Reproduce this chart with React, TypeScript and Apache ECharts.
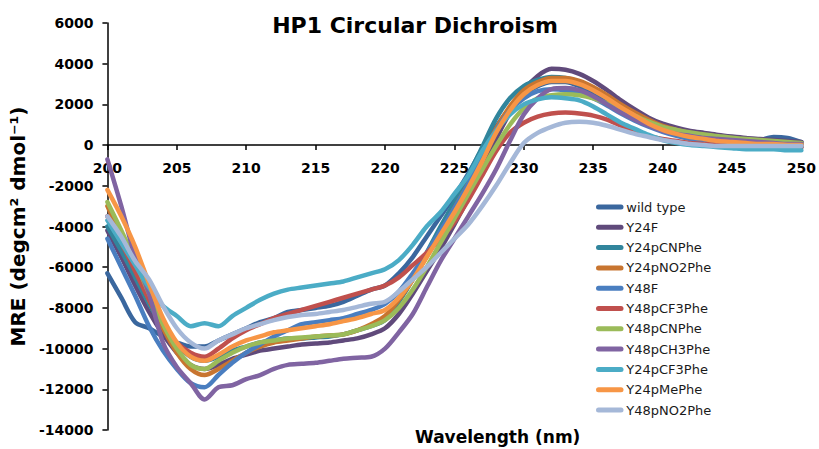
import React, { useEffect, useRef } from "react";
import * as echarts from "echarts";

const wavelengths = [200,201,202,203,204,205,206,207,208,209,210,211,212,213,214,215,216,217,218,219,220,221,222,223,224,225,226,227,228,229,230,231,232,233,234,235,236,237,238,239,240,241,242,243,244,245,246,247,248,249,250];

const wildType = [-6300,-7500,-8700,-9000,-9400,-9700,-9900,-9900,-9600,-9300,-9000,-8700,-8500,-8200,-8100,-8000,-7900,-7700,-7400,-7100,-6900,-6300,-5500,-4500,-3500,-2500,-1400,-200,900,1800,2500,2900,3100,3100,2900,2600,2200,1800,1400,1100,850,650,500,400,300,250,200,250,400,350,150];
const y24F = [-4200,-5500,-6900,-8200,-9300,-10200,-10800,-11000,-10800,-10500,-10300,-10100,-10000,-9900,-9800,-9750,-9700,-9600,-9500,-9300,-9000,-8300,-7300,-6200,-5100,-3900,-2600,-1200,300,1600,2700,3400,3750,3700,3500,3150,2700,2200,1750,1350,1050,850,700,600,500,420,350,300,250,200,150];
const y24pCNPhe = [-4000,-5200,-6500,-7800,-8900,-9800,-10400,-10600,-10400,-10100,-9900,-9700,-9600,-9500,-9500,-9450,-9400,-9300,-9100,-8900,-8600,-7700,-6600,-5300,-4000,-2800,-1500,-100,1300,2300,2900,3200,3350,3300,3100,2700,2300,1800,1400,1000,700,500,350,250,150,100,50,0,0,-50,-100];
const y24pNO2Phe = [-3000,-4500,-6000,-7600,-9000,-10200,-11000,-11300,-11000,-10600,-10200,-9900,-9700,-9600,-9500,-9400,-9350,-9300,-9100,-8800,-8400,-7600,-6600,-5500,-4300,-3100,-1900,-600,800,1900,2700,3100,3300,3300,3150,2850,2450,2000,1600,1250,950,750,600,500,400,320,250,200,150,100,50];
const y48F = [-4600,-6000,-7400,-8900,-10100,-11000,-11700,-11900,-11300,-10700,-10200,-9800,-9400,-9100,-8800,-8700,-8600,-8500,-8300,-8100,-7800,-7200,-6300,-5300,-4200,-3100,-1900,-600,700,1700,2300,2650,2750,2700,2550,2300,1950,1550,1200,900,650,450,300,200,150,100,50,0,0,-50,-50];
const y48pCF3Phe = [-3500,-4800,-6200,-7600,-8800,-9700,-10200,-10400,-10000,-9500,-9100,-8800,-8500,-8300,-8100,-7900,-7700,-7500,-7300,-7100,-6900,-6500,-5900,-5300,-4600,-3800,-2700,-1500,-300,600,1100,1400,1550,1600,1550,1450,1250,950,700,450,300,200,100,50,0,-50,-50,-100,-100,-100,-100];
const y48pCNPhe = [-2800,-4200,-5700,-7300,-8800,-10000,-10800,-11000,-10600,-10200,-9900,-9700,-9600,-9500,-9450,-9400,-9350,-9300,-9100,-8900,-8600,-8000,-7100,-6000,-4800,-3600,-2400,-1200,-50,1000,1800,2300,2450,2500,2450,2300,2050,1750,1450,1150,900,750,620,520,430,360,300,250,200,150,100];
const y48pCH3Phe = [-700,-3000,-5500,-7300,-9700,-10900,-11700,-12500,-11900,-11800,-11500,-11300,-11000,-10800,-10750,-10700,-10600,-10500,-10450,-10400,-10000,-9200,-8300,-7000,-5700,-4600,-3500,-2400,-1200,200,1500,2300,2750,2800,2700,2400,2000,1600,1250,950,700,550,450,350,300,250,200,150,100,50,50];
const y24pCF3Phe = [-3700,-4800,-5900,-7000,-7900,-8400,-8900,-8750,-8900,-8400,-8000,-7600,-7300,-7100,-7000,-6900,-6800,-6700,-6500,-6300,-6100,-5650,-4900,-4000,-3300,-2400,-1500,-300,700,1500,2000,2250,2350,2300,2200,1900,1500,1100,800,500,250,100,0,-50,-100,-150,-200,-200,-200,-250,-250];
const y24pMePhe = [-2200,-3500,-5000,-6800,-8500,-9700,-10400,-10600,-10300,-9900,-9600,-9400,-9200,-9100,-9000,-8900,-8800,-8650,-8500,-8300,-8100,-7500,-6600,-5500,-4400,-3300,-2100,-800,600,1700,2500,2950,3150,3150,3000,2700,2300,1850,1450,1050,750,550,400,300,200,150,100,50,50,0,0];
const y48pNO2Phe = [-3500,-4500,-5700,-6600,-7900,-9000,-9700,-10000,-9600,-9300,-9000,-8800,-8600,-8450,-8350,-8300,-8200,-8100,-7950,-7800,-7700,-7200,-6600,-6000,-5300,-4600,-3900,-3000,-2000,-900,100,600,900,1100,1150,1100,950,750,550,400,250,150,50,0,-50,-50,-50,-50,-50,-50,-50];

const seriesNames = ["wild type","Y24F","Y24pCNPhe","Y24pNO2Phe","Y48F","Y48pCF3Phe","Y48pCNPhe","Y48pCH3Phe","Y24pCF3Phe","Y24pMePhe","Y48pNO2Phe"];
const seriesValues = [wildType,y24F,y24pCNPhe,y24pNO2Phe,y48F,y48pCF3Phe,y48pCNPhe,y48pCH3Phe,y24pCF3Phe,y24pMePhe,y48pNO2Phe];
const seriesColors = ["#3A679E","#604A7B","#31859C","#C87530","#4A7EC0","#C0504D","#9BBB59","#8064A2","#4BACC6","#F79646","#A5B8D8"];

const FONT = "DejaVu Sans";

export default function App() {
  const ref = useRef<HTMLDivElement>(null);
  useEffect(() => {
    if (!ref.current) return;
    const chart = echarts.init(ref.current, undefined, { renderer: "svg" });
    const series = seriesNames.map((name, i) => ({
      name,
      type: "line",
      showSymbol: false,
      symbol: "none",
      smooth: 0.3,
      data: wavelengths.map((w, j) => [w, seriesValues[i][j]]),
      lineStyle: { width: 4.5, color: seriesColors[i], cap: "round", join: "round" },
      itemStyle: { color: seriesColors[i] },
    }));
    chart.setOption({
      animation: false,
      backgroundColor: "#ffffff",
      title: {
        text: "HP1 Circular Dichroism",
        left: 410,
        textAlign: "center",
        top: 9,
        textStyle: { fontFamily: FONT, fontWeight: "bold", fontSize: 22, color: "#000" },
      },
      grid: { left: 96, right: 13, top: 23, bottom: 19, containLabel: false },
      legend: {
        orient: "vertical",
        left: 591,
        top: 195,
        itemWidth: 33,
        itemHeight: 5,
        itemGap: 6.3,
        icon: "path://M3,0L30,0A3,3,0,0,1,30,6L3,6A3,3,0,0,1,3,0Z",
        textStyle: { fontFamily: FONT, fontSize: 13, color: "#1a1a1a", lineHeight: 14, padding: [0, 0, 0, -5] },
        data: seriesNames,
      },
      xAxis: {
        type: "value",
        position: "bottom",
        offset: -285,
        min: 200,
        max: 250,
        interval: 5,
        axisLine: { onZero: false, lineStyle: { color: "#000", width: 1.5 } },
        axisTick: { show: true, length: 5, lineStyle: { color: "#000", width: 1.5 } },
        axisLabel: { fontFamily: FONT, fontWeight: "bold", fontSize: 14, color: "#000", margin: 16, formatter: (v: number) => String(v) },
        splitLine: { show: false },
      },
      yAxis: {
        type: "value",
        min: -14000,
        max: 6000,
        interval: 2000,
        name: "MRE (degcm² dmol⁻¹)",
        nameLocation: "middle",
        nameGap: 74,
        nameRotate: 90,
        nameTextStyle: { fontFamily: FONT, fontWeight: "bold", fontSize: 20, color: "#000" },
        axisLine: { show: true, onZero: false, lineStyle: { color: "#000", width: 1.5 } },
        axisTick: { show: true, length: 5, lineStyle: { color: "#000", width: 1.5 } },
        axisLabel: { fontFamily: FONT, fontWeight: "bold", fontSize: 14, color: "#000", margin: 14, formatter: (v: number) => String(v) },
        splitLine: { show: false },
      },
      graphic: [
        {
          type: "text",
          left: 499 - 84,
          top: 428,
          style: { text: "Wavelength (nm)", fontFamily: FONT, fontWeight: "bold", fontSize: 17, fill: "#000" },
        },
      ],
      series,
    });
    return () => chart.dispose();
  }, []);
  return <div ref={ref} style={{ width: 819, height: 449, position: "absolute", left: 0, top: 0 }} />;
}
